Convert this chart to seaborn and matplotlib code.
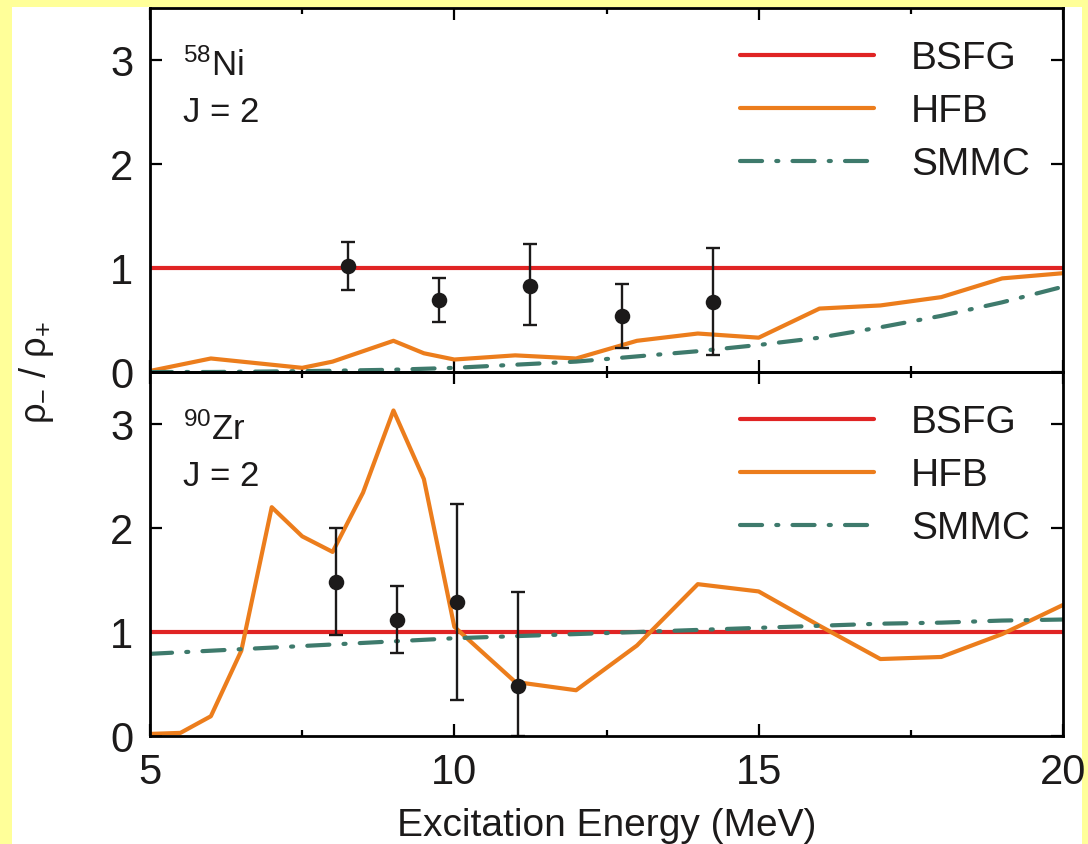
import numpy as np
import pandas as pd
import matplotlib
matplotlib.use("Agg")
import matplotlib.pyplot as plt
import seaborn as sns
from matplotlib.patches import Rectangle

# ---- data -------------------------------------------------------------
bsfg_e = [5, 20]
bsfg_ratio = [1.0, 1.0]

# 58Ni, J = 2
ni_hfb_e = [5, 5.5, 6, 6.5, 7, 7.5, 8, 8.5, 9, 9.5, 10, 11, 12, 13, 14, 15, 16, 17, 18, 19, 20]
ni_hfb = [0.01, 0.07, 0.13, 0.10, 0.07, 0.04, 0.10, 0.20, 0.30, 0.18, 0.12, 0.16, 0.13,
          0.30, 0.37, 0.33, 0.61, 0.64, 0.72, 0.90, 0.95]
ni_smmc_e = [5, 6, 7, 8, 9, 10, 11, 12, 13, 14, 15, 16, 17, 18, 19, 20]
ni_smmc = [0.0, 0.0, 0.005, 0.012, 0.022, 0.04, 0.07, 0.10, 0.15, 0.20, 0.26, 0.33,
           0.43, 0.54, 0.67, 0.82]
ni_exp_e = [8.25, 9.75, 11.25, 12.75, 14.25]
ni_exp = [1.02, 0.69, 0.83, 0.54, 0.67]
ni_exp_lo = [0.79, 0.48, 0.45, 0.23, 0.16]
ni_exp_hi = [1.25, 0.90, 1.23, 0.85, 1.19]

# 90Zr, J = 2
zr_hfb_e = [5, 5.5, 6, 6.5, 7, 7.5, 8, 8.5, 9, 9.5, 10, 11, 12, 13, 14, 15, 16, 17, 18, 19, 20]
zr_hfb = [0.02, 0.03, 0.19, 0.82, 2.20, 1.92, 1.77, 2.34, 3.13, 2.47, 1.05, 0.52, 0.44,
          0.87, 1.46, 1.39, 1.06, 0.74, 0.76, 0.98, 1.26]
zr_smmc_e = [5, 6, 7, 8, 9, 10, 11, 12, 13, 14, 15, 16, 17, 18, 19, 20]
zr_smmc = [0.79, 0.82, 0.85, 0.88, 0.91, 0.94, 0.96, 0.98, 1.00, 1.02, 1.04, 1.06,
           1.08, 1.09, 1.11, 1.12]
zr_exp_e = [8.05, 9.05, 10.05, 11.05]
zr_exp = [1.48, 1.12, 1.29, 0.48]
zr_exp_lo = [0.97, 0.80, 0.35, 0.0]
zr_exp_hi = [2.00, 1.44, 2.23, 1.38]

x_ticks = [5, 10, 15, 20]
y_ticks = [0, 1, 2, 3]

# ---- style ------------------------------------------------------------
sns.set_theme(style="ticks")
plt.rcParams["font.family"] = ["Liberation Sans", "DejaVu Sans"]
plt.rcParams["mathtext.fontset"] = "custom"
plt.rcParams["mathtext.rm"] = "Liberation Sans"
plt.rcParams["mathtext.it"] = "Liberation Sans"
plt.rcParams["mathtext.bf"] = "Liberation Sans:bold"

RED = "#E02424"
ORANGE = "#EC7D1C"
TEAL = "#3E7A6C"
INK = "#1C1A1A"
LW = 3.0
# dash-dot pattern in units of the line width (dash, gap, dot, gap)
DASHDOT = [5.3, 3.4, 0.5, 3.4]

fig = plt.figure(figsize=(10.88, 8.44), dpi=100, facecolor="#FFFF99")
fig.patches.append(Rectangle((12 / 1088, 0), (1082 - 12) / 1088, 837 / 844,
                             transform=fig.transFigure, facecolor="white",
                             edgecolor="none", zorder=-10))

left, width = 150 / 1088, (1063 - 150) / 1088
h = 364 / 844
ax_top = fig.add_axes([left, 1 - 372 / 844, width, h])
ax_bot = fig.add_axes([left, 1 - 736 / 844, width, h], sharex=ax_top)


def draw_panel(ax, hfb_e, hfb, smmc_e, smmc, ex_e, ex, ex_lo, ex_hi, nucleus):
    ax.set_facecolor("none")
    sns.lineplot(x=bsfg_e, y=bsfg_ratio, ax=ax, color=RED, lw=LW, label="BSFG",
                 zorder=3)
    sns.lineplot(x=hfb_e, y=hfb, ax=ax, color=ORANGE, lw=LW, label="HFB", zorder=4)
    sns.lineplot(x=smmc_e, y=smmc, ax=ax, color=TEAL, lw=LW, label="SMMC", zorder=4)
    smmc_line = ax.lines[-1]
    smmc_line.set_dashes(DASHDOT)
    smmc_line.set_dash_capstyle("round")

    ex = np.asarray(ex)
    yerr = np.vstack([ex - np.asarray(ex_lo), np.asarray(ex_hi) - ex])
    ax.errorbar(ex_e, ex, yerr=yerr, fmt="none", ecolor=INK, elinewidth=1.7,
                capsize=4.8, capthick=1.7, zorder=5)
    sns.scatterplot(x=ex_e, y=ex, ax=ax, color=INK, s=125, edgecolor=INK,
                    linewidth=0, zorder=6, legend=False)

    ax.set_xlim(5, 20)
    ax.set_ylim(0, 3.5)
    ax.set_yticks(y_ticks)
    ax.set_xticks(x_ticks)
    ax.set_xticks([7.5, 12.5, 17.5], minor=True)
    ax.tick_params(which="both", direction="in", top=True, right=True,
                   labelsize=30, color="black", width=1.6, pad=12, labelcolor=INK)
    ax.tick_params(which="major", length=8.5)
    ax.tick_params(which="minor", length=4)
    for sp in ax.spines.values():
        sp.set_color("black")
        sp.set_linewidth(2.0)
        sp.set_zorder(7)

    ax.text(0.036, 0.813, nucleus, transform=ax.transAxes, fontsize=25,
            color=INK, va="baseline", ha="left")
    ax.text(0.036, 0.687, "J = 2", transform=ax.transAxes, fontsize=25,
            color=INK, va="baseline", ha="left")

    leg = ax.legend(loc="upper left", bbox_to_anchor=(0.646, 0.91), frameon=False,
                    fontsize=28, handlelength=3.45, handletextpad=0.95,
                    labelspacing=0.44, borderaxespad=0, borderpad=0)
    for t in leg.get_texts():
        t.set_color(INK)
    leg.get_lines()[2].set_dashes(DASHDOT)
    leg.get_lines()[2].set_dash_capstyle("round")
    for ln in leg.get_lines():
        ln.set_solid_capstyle("round")
    ax.set_xlabel("")
    ax.set_ylabel("")


draw_panel(ax_top, ni_hfb_e, ni_hfb, ni_smmc_e, ni_smmc, ni_exp_e, ni_exp,
           ni_exp_lo, ni_exp_hi, r"$^{58}$Ni")
draw_panel(ax_bot, zr_hfb_e, zr_hfb, zr_smmc_e, zr_smmc, zr_exp_e, zr_exp,
           zr_exp_lo, zr_exp_hi, r"$^{90}$Zr")

ax_top.tick_params(labelbottom=False)

ax_bot.set_xlabel("Excitation Energy (MeV)", fontsize=28, color=INK)
ax_bot.xaxis.label.set_va("baseline")
ax_bot.xaxis.set_label_coords(0.5, -0.275)

ax_top.set_ylabel(r"$\mathrm{ρ_{-}\ /\ ρ_{+}}$", fontsize=26, color=INK)
ax_top.yaxis.label.set_va("center")
ax_top.yaxis.set_label_coords(-0.124, 0.0)

fig.savefig("out.png", dpi=100, facecolor=fig.get_facecolor())
